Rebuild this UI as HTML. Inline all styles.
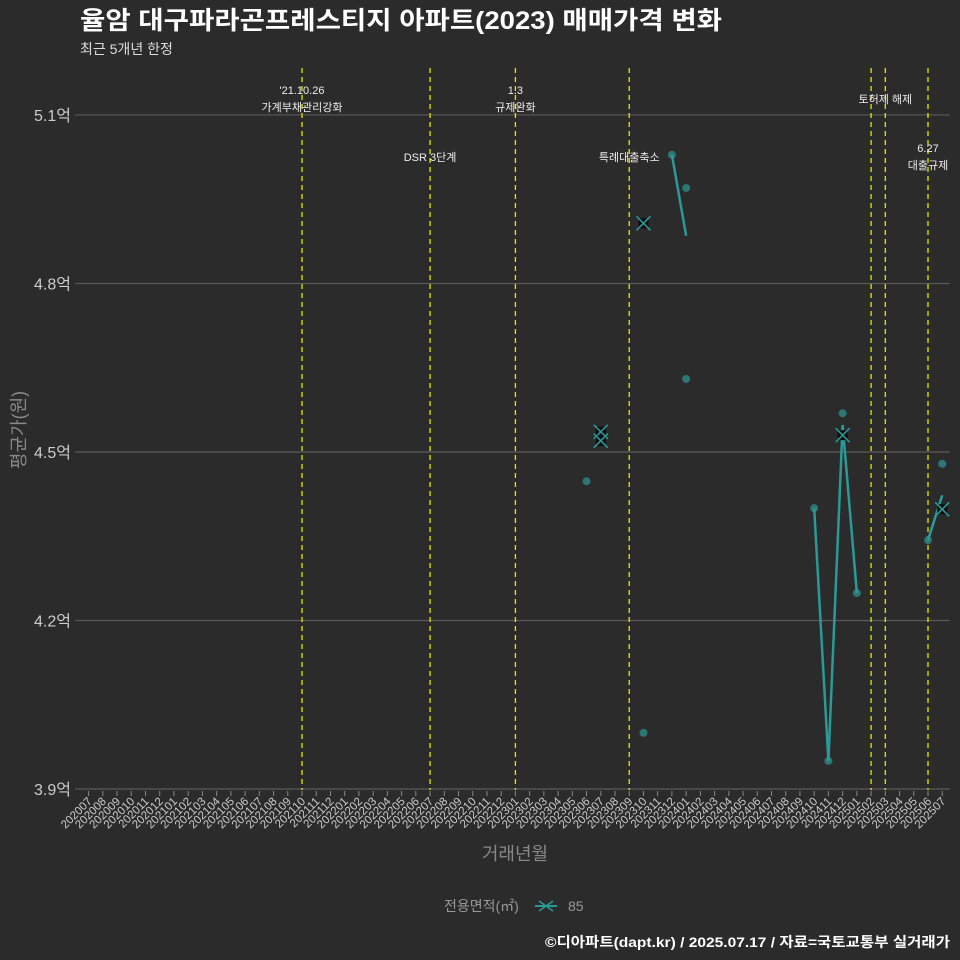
<!DOCTYPE html>
<html><head><meta charset="utf-8"><style>
body{margin:0;background:#2b2b2b;}
svg{display:block;font-family:"Liberation Sans","Noto Sans CJK KR",sans-serif;}
</style></head><body>
<svg id="chart" width="960" height="960" viewBox="0 0 960 960">
<rect x="0" y="0" width="960" height="960" fill="#2b2b2b"/>
<text x="80" y="29" fill="#fff" font-size="25" font-weight="bold" textLength="642" lengthAdjust="spacingAndGlyphs">율암 대구파라곤프레스티지 아파트(2023) 매매가격 변화</text>
<text x="80" y="54" fill="#ddd" font-size="14">최근 5개년 한정</text>
<g id="grid"></g>
<g id="vlines"></g>
<g id="xticks"></g>
<g id="yticks"></g>
<g id="marks"></g>
<text x="25" y="430" fill="#888" font-size="18" text-anchor="middle" transform="rotate(-90 25 430)">평균가(원)</text>
<text x="515" y="860" fill="#888" font-size="18" text-anchor="middle">거래년월</text>
<g>
<text x="444" y="911" fill="#999" font-size="14">전용면적(㎡)</text>
<g>
<line x1="535" y1="906" x2="557" y2="906" stroke="#2a9a98" stroke-width="2"/>
<path d="M539 901 L553 911 M539 911 L553 901" stroke="#2a9a98" stroke-width="1.5"/>
<text x="568" y="911" fill="#999" font-size="14">85</text>
</g>
</g>
<text x="950" y="947" fill="#fff" font-size="14" font-weight="bold" text-anchor="end" textLength="405" lengthAdjust="spacingAndGlyphs">©디아파트(dapt.kr) / 2025.07.17 / 자료=국토교통부 실거래가</text>
</svg>
<script>
const months = [];
for (let y = 2020, m = 7; y * 100 + m <= 202507; m++) { if (m > 12) { m = 1; y++; } months.push(String(y * 100 + m)); }
const yTicks = [3.9, 4.2, 4.5, 4.8, 5.1];
const dotMonths = ["202306","202310","202312","202401","202401","202410","202411","202412","202501","202506","202507"];
const dotValues = [4.448, 4.0, 5.029, 4.970, 4.630, 4.40, 3.95, 4.569, 4.249, 4.343, 4.479];
const xMonths = ["202307","202307","202310","202412","202507"];
const xValues = [4.536, 4.520, 4.907, 4.530, 4.398];
const lineMonths = ["202312","202401","202410","202411","202412","202501","202506","202507"];
const lineValues = [5.029, 4.885, 4.40, 3.95, 4.548, 4.249, 4.343, 4.423];
const eventMonths = ["202110","202207","202301","202309","202502","202503","202506"];
const eventLabels = [["'21.10.26","가계부채관리강화"],["DSR 3단계"],["1.3","규제완화"],["특례대출축소"],[],["토허제 해제"],["6.27","대출규제"]];
const eventLabelY = [90, 157, 90, 157, 0, 99, 148];

const NS = "http://www.w3.org/2000/svg";
const x = mo => 88.6 + months.indexOf(mo) * 14.227;
const y = v => 789 - (v - 3.9) / 0.1 * 56.17;
function el(tag, attrs, parent) { const e = document.createElementNS(NS, tag); for (const k in attrs) e.setAttribute(k, attrs[k]); parent.appendChild(e); return e; }

const grid = document.getElementById('grid'), yt = document.getElementById('yticks');
yTicks.forEach(v => {
  const g = el('line', {x1: 75, x2: 950, y1: y(v), y2: y(v), stroke: '#5a5a5a', 'stroke-width': 1.2}, grid);
  
  
  const t = el('text', {x: 71, y: y(v) + 6, fill: '#ccc', 'font-size': 16, 'text-anchor': 'end'}, yt);
  t.textContent = v.toFixed(1) + '억';
  
  
});
const xt = document.getElementById('xticks');
months.forEach(mo => {
  const px = x(mo);
  el('line', {x1: px, x2: px, y1: 791, y2: 796, stroke: '#888', 'stroke-width': 1}, xt);
  const t = el('text', {x: px + 4, y: 802, fill: '#ccc', 'font-size': 11.5, 'text-anchor': 'end', transform: `rotate(-45 ${px + 4} 802)`}, xt);
  t.textContent = mo;
  
  
});
const vl = document.getElementById('vlines');
eventMonths.forEach((mo, i) => {
  const px = x(mo);
  const l = el('line', {x1: px, x2: px, y1: 68, y2: 790, stroke: '#e6e600', 'stroke-width': 1.3, 'stroke-dasharray': '5,4'}, vl);
  
  
  eventLabels[i].forEach((s, j) => {
    const t = el('text', {x: px, y: eventLabelY[i] + 4 + j * 17, fill: '#eee', 'font-size': 11, 'text-anchor': 'middle'}, vl);
    t.textContent = s;
    
    
  });
});
const mk = document.getElementById('marks');
dotMonths.forEach((mo, i) => {
  const c = el('circle', {cx: x(mo), cy: y(dotValues[i]), r: 4, fill: '#2a7f7c', opacity: 0.9}, mk);
  
  
});
let seg = [];
const segs = [];
lineMonths.forEach((mo, i) => {
  const idx = months.indexOf(mo);
  if (seg.length && months.indexOf(lineMonths[i - 1]) !== idx - 1) { segs.push(seg); seg = []; }
  seg.push([x(mo), y(lineValues[i])]);
});
if (seg.length) segs.push(seg);
segs.forEach(s => {
  const p = el('polyline', {points: s.map(q => q.join(',')).join(' '), fill: 'none', stroke: '#2a9a98', 'stroke-width': 2.5}, mk);
  
  
});
xMonths.forEach((mo, i) => {
  const px = x(mo), py = y(xValues[i]);
  el('rect', {x: px - 5, y: py - 5, width: 10, height: 10, fill: '#0c0c0c'}, mk);
  const p = el('path', {d: `M${px-7} ${py-7} L${px+7} ${py+7} M${px-7} ${py+7} L${px+7} ${py-7}`, stroke: '#2a9a98', 'stroke-width': 1.6}, mk);
  
  
});
</script>
</body></html>
